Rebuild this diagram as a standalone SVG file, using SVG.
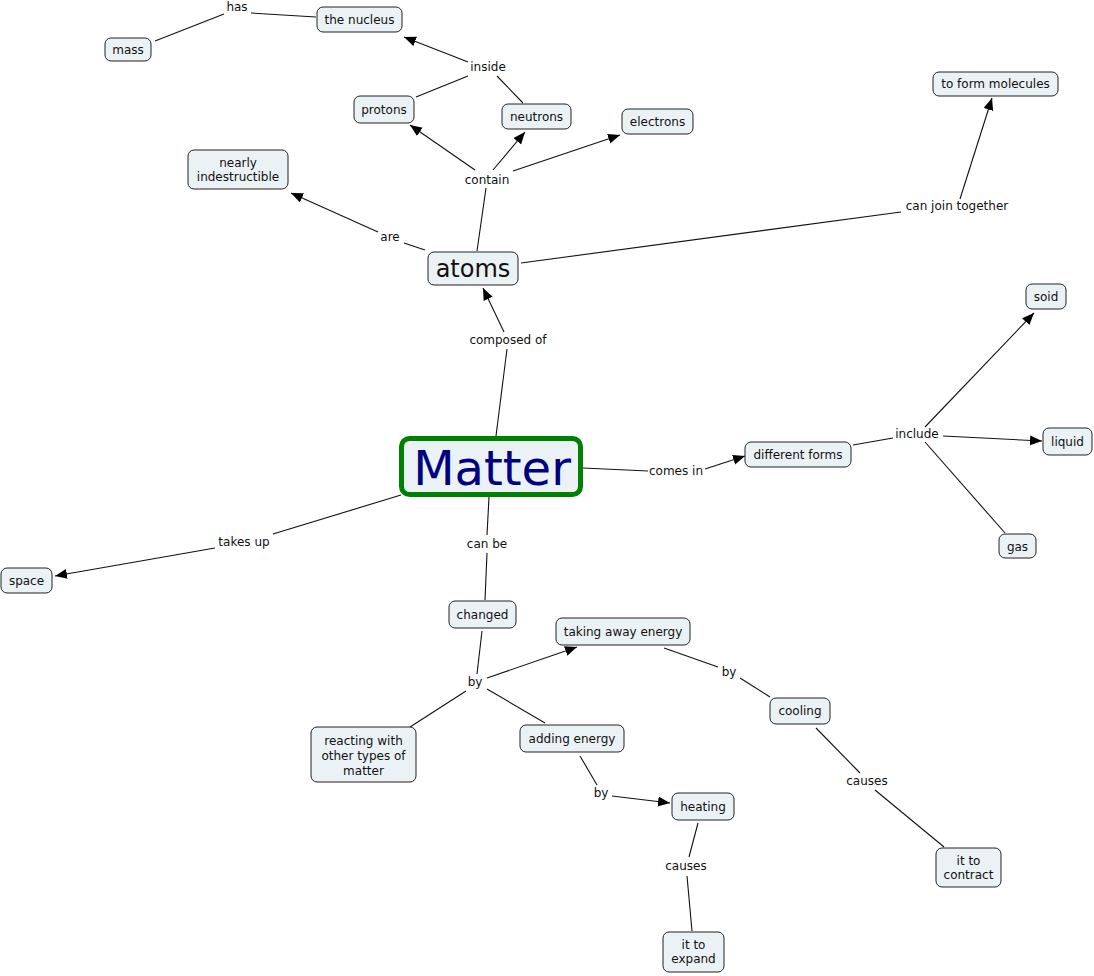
<svg xmlns="http://www.w3.org/2000/svg" width="1094" height="976" viewBox="0 0 1094 976">
<style>
.n rect{fill:#ebf2f5;stroke:#222;stroke-width:1}
.n text,.lp text{font-family:"DejaVu Sans",Verdana,sans-serif;font-size:12px;fill:#111;text-anchor:middle}
.c line{stroke:#111;stroke-width:1.1;fill:none}
.a{marker-end:url(#ah)}
</style>
<defs>
<marker id="ah" markerUnits="userSpaceOnUse" markerWidth="14" markerHeight="12" refX="12" refY="5" orient="auto">
<path d="M0,0 L12,5 L0,10 z" fill="#000"/>
</marker>
</defs>
<rect width="1094" height="976" fill="#fff"/>
<g id="connectors" class="c">
<line x1="316" y1="17" x2="251" y2="13"/>
<line x1="224" y1="14" x2="155" y2="41"/>
<line class="a" x1="468" y1="62" x2="404" y2="37"/>
<line x1="416" y1="97" x2="468" y2="76"/>
<line x1="523" y1="103" x2="497" y2="76"/>
<line class="a" x1="475" y1="170" x2="410" y2="125"/>
<line class="a" x1="493" y1="170" x2="525" y2="132"/>
<line class="a" x1="513" y1="171" x2="620" y2="135"/>
<line x1="477" y1="251" x2="486" y2="188"/>
<line x1="425" y1="250" x2="404" y2="243"/>
<line class="a" x1="378" y1="232" x2="291" y2="193"/>
<line x1="521" y1="263" x2="901" y2="212"/>
<line class="a" x1="960" y1="199" x2="992" y2="98"/>
<line x1="496" y1="436" x2="507" y2="349"/>
<line class="a" x1="504" y1="332" x2="483" y2="288"/>
<line x1="583" y1="468" x2="648" y2="471"/>
<line class="a" x1="705" y1="469" x2="745" y2="456"/>
<line x1="853" y1="445" x2="893" y2="438"/>
<line class="a" x1="925" y1="427" x2="1034" y2="313"/>
<line class="a" x1="943" y1="436" x2="1042" y2="441"/>
<line x1="925" y1="442" x2="1005" y2="533"/>
<line x1="401" y1="495" x2="273" y2="534"/>
<line class="a" x1="215" y1="548" x2="55" y2="576"/>
<line x1="489" y1="497" x2="487" y2="535"/>
<line x1="487" y1="553" x2="485" y2="600"/>
<line x1="482" y1="631" x2="477" y2="674"/>
<line class="a" x1="487" y1="678" x2="577" y2="647"/>
<line x1="466" y1="691" x2="410" y2="727"/>
<line x1="487" y1="689" x2="545" y2="723"/>
<line x1="664" y1="648" x2="718" y2="667"/>
<line x1="740" y1="678" x2="770" y2="697"/>
<line x1="580" y1="756" x2="597" y2="785"/>
<line class="a" x1="612" y1="796" x2="670" y2="803"/>
<line x1="816" y1="728" x2="860" y2="773"/>
<line x1="875" y1="790" x2="944" y2="847"/>
<line x1="698" y1="823" x2="689" y2="857"/>
<line x1="687" y1="876" x2="692" y2="931"/>
</g>
<g id="linking-phrases" class="lp">
<text x="237" y="11">has</text>
<text x="488" y="71">inside</text>
<text x="487" y="184">contain</text>
<text x="390" y="241">are</text>
<text x="957" y="210">can join together</text>
<text x="508" y="344">composed of</text>
<text x="676" y="475">comes in</text>
<text x="917" y="438">include</text>
<text x="244" y="546">takes up</text>
<text x="487" y="548">can be</text>
<text x="475" y="686">by</text>
<text x="729" y="676">by</text>
<text x="601" y="797">by</text>
<text x="867" y="785">causes</text>
<text x="686" y="870">causes</text>
</g>
<g id="n-nucleus" class="n"><rect x="317" y="7" width="85" height="25" rx="6"/><text x="359.5" y="24">the nucleus</text></g>
<g id="n-mass" class="n"><rect x="105" y="38" width="46" height="23" rx="6"/><text x="128" y="54">mass</text></g>
<g id="n-protons" class="n"><rect x="354" y="96" width="60" height="27" rx="6"/><text x="384" y="114">protons</text></g>
<g id="n-neutrons" class="n"><rect x="502" y="104" width="69" height="25" rx="6"/><text x="536.5" y="121">neutrons</text></g>
<g id="n-electrons" class="n"><rect x="622" y="109" width="71" height="25" rx="6"/><text x="657.5" y="126">electrons</text></g>
<g id="n-indestructible" class="n"><rect x="188" y="150" width="100" height="39" rx="6"/><text x="238" y="167">nearly</text><text x="238" y="181">indestructible</text></g>
<g id="n-molecules" class="n"><rect x="933" y="72" width="125" height="24" rx="6"/><text x="995.5" y="88">to form molecules</text></g>
<g id="n-atoms" class="n"><rect x="428" y="252" width="90" height="33" rx="6"/><text x="473" y="277" style="font-size:24px">atoms</text></g>
<g id="n-soid" class="n"><rect x="1026" y="284" width="40" height="25" rx="6"/><text x="1046" y="301">soid</text></g>
<g id="n-liquid" class="n"><rect x="1043" y="428" width="49" height="27" rx="6"/><text x="1067.5" y="446">liquid</text></g>
<g id="n-forms" class="n"><rect x="745" y="442" width="106" height="25" rx="6"/><text x="798" y="459">different forms</text></g>
<g id="n-gas" class="n"><rect x="999" y="534" width="37" height="24" rx="6"/><text x="1017.5" y="551">gas</text></g>
<g id="n-matter" class="n"><rect x="401.5" y="438.5" width="179" height="56" rx="8" style="stroke:#008000;stroke-width:5"/><text x="492" y="485" style="font-size:48px;fill:#000080">Matter</text></g>
<g id="n-space" class="n"><rect x="1" y="568" width="51" height="25" rx="6"/><text x="26.5" y="585">space</text></g>
<g id="n-changed" class="n"><rect x="449" y="601" width="67" height="27" rx="6"/><text x="482.5" y="619">changed</text></g>
<g id="n-taking" class="n"><rect x="556" y="618" width="134" height="27" rx="6"/><text x="623" y="636">taking away energy</text></g>
<g id="n-reacting" class="n"><rect x="311" y="727" width="105" height="55" rx="6"/><text x="363.5" y="745">reacting with</text><text x="363.5" y="760">other types of</text><text x="363.5" y="775">matter</text></g>
<g id="n-adding" class="n"><rect x="520" y="725" width="104" height="27" rx="6"/><text x="572" y="743">adding energy</text></g>
<g id="n-cooling" class="n"><rect x="770" y="698" width="60" height="26" rx="6"/><text x="800" y="715">cooling</text></g>
<g id="n-heating" class="n"><rect x="672" y="793" width="62" height="27" rx="6"/><text x="703" y="811">heating</text></g>
<g id="n-contract" class="n"><rect x="936" y="848" width="65" height="39" rx="6"/><text x="968.5" y="865">it to</text><text x="968.5" y="879">contract</text></g>
<g id="n-expand" class="n"><rect x="663" y="932" width="61" height="40" rx="6"/><text x="693.5" y="949">it to</text><text x="693.5" y="963">expand</text></g>
</svg>
